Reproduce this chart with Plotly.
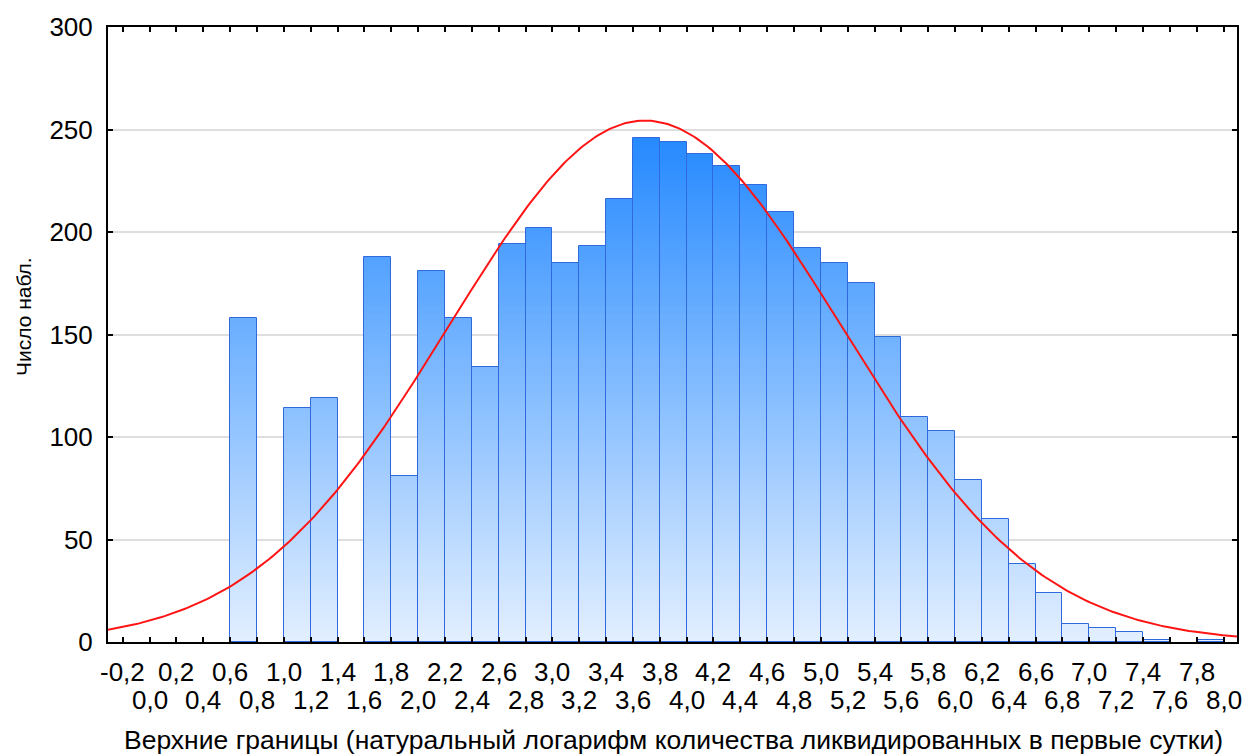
import plotly.graph_objects as go
import numpy as np

# Upper bounds of the histogram bins (width 0.2) and observed counts
upper_bounds = [round(-0.2 + 0.2 * i, 1) for i in range(42)]
counts = [0, 0, 0, 0, 0, 158, 0, 114, 119, 0, 188, 81, 181, 158, 134, 194, 202,
          185, 193, 216, 246, 244, 238, 232, 223, 210, 192, 185, 175, 149, 110,
          103, 79, 60, 38, 24, 9, 7, 5, 1, 0, 1]
bin_width = 0.2

# Fitted normal curve parameters
fit_mean = 3.69
fit_sd = 1.46
fit_n = 4654

tick_labels = [f"{v:.1f}".replace(".", ",") for v in upper_bounds]

FONT = "Liberation Sans, Arial, sans-serif"
TOP_RGB = np.array([36, 137, 255])
BOTTOM_RGB = np.array([228, 240, 255])
GRAD_MAX = 250.0


def grad_color(v):
    t = min(max(v / GRAD_MAX, 0.0), 1.0)
    c = BOTTOM_RGB + t * (TOP_RGB - BOTTOM_RGB)
    return f"rgb({int(c[0])},{int(c[1])},{int(c[2])})"


centers = [ub - bin_width / 2 for ub in upper_bounds]

# Vertical gradient fill: overlapping bars drawn from the top level down
step = 2
levels = np.arange(GRAD_MAX + 10, 0, -step)
gx, gy, gc = [], [], []
for lv in levels:
    for cx, cnt in zip(centers, counts):
        if cnt <= 0 or lv - step >= cnt:
            continue
        gx.append(cx)
        gy.append(min(cnt, lv))
        gc.append(grad_color(min(cnt, lv)))

fig = go.Figure()
fig.add_trace(go.Bar(
    x=gx, y=gy, width=bin_width,
    marker=dict(color=gc, line=dict(width=0)),
    hoverinfo="skip", showlegend=False,
))

# Bar outlines
fig.add_trace(go.Bar(
    x=centers, y=[c if c > 0 else None for c in counts], width=bin_width,
    marker=dict(color="rgba(0,0,0,0)",
                line=dict(color="rgb(48,104,222)", width=1)),
    showlegend=False,
))

# Normal curve
xc = np.linspace(-0.31, 8.1, 400)
yc = fit_n * bin_width / (fit_sd * np.sqrt(2 * np.pi)) * np.exp(-0.5 * ((xc - fit_mean) / fit_sd) ** 2)
fig.add_trace(go.Scatter(
    x=xc, y=yc, mode="lines",
    line=dict(color="rgb(255,20,20)", width=2),
    showlegend=False,
))

# Tick labels in two staggered rows
annotations = []
for i, (v, t) in enumerate(zip(upper_bounds, tick_labels)):
    annotations.append(dict(
        text=t, x=v, xref="x", y=0, yref="paper",
        xanchor="center", yanchor="middle",
        yshift=-30 if i % 2 == 0 else -58,
        showarrow=False, font=dict(size=26, family=FONT, color="black"),
    ))

annotations += [
    dict(text="Верхние границы (натуральный логарифм количества ликвидированных в первые сутки)",
         xref="paper", yref="paper", x=0.501, y=-0.159,
         xanchor="center", yanchor="middle", showarrow=False,
         font=dict(size=26.5, family=FONT)),
    dict(text="Число набл.", xref="paper", yref="paper", x=-0.0753, y=0.53,
         xanchor="center", yanchor="middle", textangle=-90, showarrow=False,
         font=dict(size=21, family=FONT)),
]

fig.update_layout(
    width=1256, height=754,
    margin=dict(l=108, r=19, t=22, b=112),
    plot_bgcolor="white", paper_bgcolor="white",
    barmode="overlay", bargap=0,
    font=dict(family=FONT, color="black"),
    xaxis=dict(
        range=[-0.31, 8.1],
        tickmode="array", tickvals=upper_bounds, showticklabels=False,
        ticks="inside", ticklen=5, tickwidth=1.5, tickcolor="black",
        showline=True, linecolor="black", linewidth=2, mirror="ticks",
        showgrid=False, zeroline=False,
    ),
    yaxis=dict(
        range=[0, 300], tickmode="array", tickvals=[0, 50, 100, 150, 200, 250, 300],
        ticks="inside", ticklen=5, tickwidth=1.5, tickcolor="black",
        showline=True, linecolor="black", linewidth=2, mirror="ticks",
        showgrid=True, gridcolor="rgb(222,222,222)", gridwidth=1.5,
        zeroline=False,
        tickfont=dict(size=26, family=FONT),
        ticklabelstandoff=8,
    ),
    annotations=annotations,
)

fig.write_html("out.html")
